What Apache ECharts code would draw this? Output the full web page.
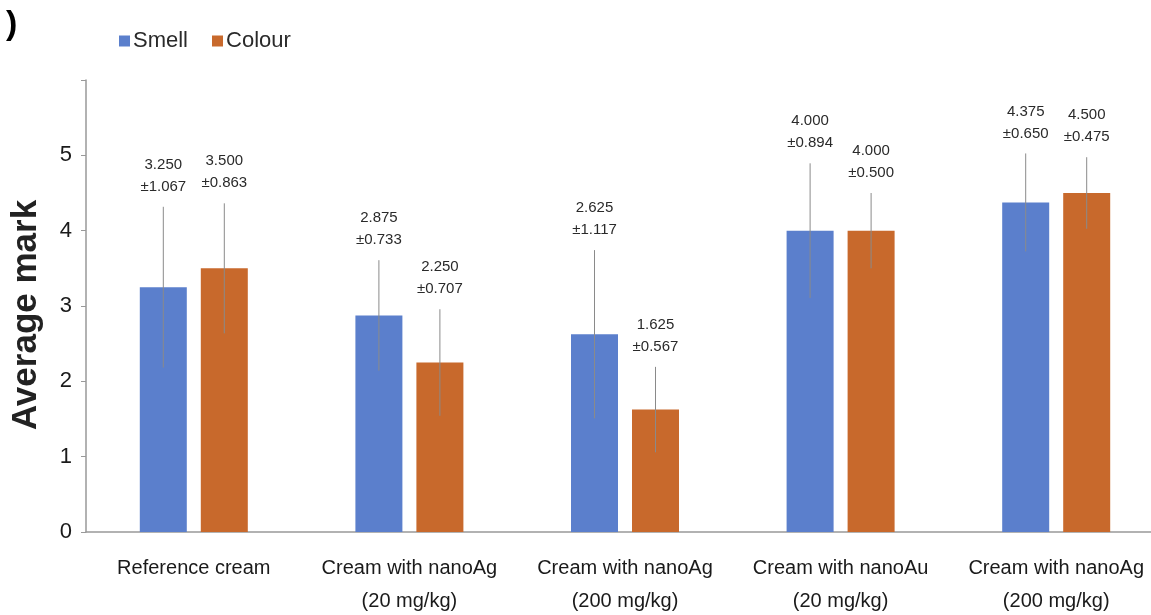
<!DOCTYPE html>
<html>
<head>
<meta charset="utf-8">
<script src="https://cdn.jsdelivr.net/npm/echarts@6/dist/echarts.min.js"></script>
<style>
  html, body { margin: 0; padding: 0; background: #fff; }
  #chart { width: 1151px; height: 615px; }
</style>
</head>
<body>
<div id="chart"></div>
<script>
var categories = ['Reference cream', 'Cream with nanoAg\n(20 mg/kg)', 'Cream with nanoAg\n(200 mg/kg)', 'Cream with nanoAu\n(20 mg/kg)', 'Cream with nanoAg\n(200 mg/kg)'];
var smell = [3.250, 2.875, 2.625, 4.000, 4.375];
var smellSd = [1.067, 0.733, 1.117, 0.894, 0.650];
var colour = [3.500, 2.250, 1.625, 4.000, 4.500];
var colourSd = [0.863, 0.707, 0.567, 0.500, 0.475];
var yTicks = [0, 1, 2, 3, 4, 5];

var FONT = '"Liberation Sans Narrow", "Arial Narrow", "Liberation Sans", Arial, sans-serif';
var BAR_W = 47;
var GAP = 14;

var chart = echarts.init(document.getElementById('chart'));

// error bar + two-line label, drawn over each bar
function errSeries(name, means, sds, side) {
  var data = means.map(function (m, i) { return [i, m, sds[i]]; });
  return {
    name: name + ' err',
    type: 'custom',
    z: 5,
    silent: true,
    data: data,
    renderItem: function (params, api) {
      var i = api.value(0), m = api.value(1), sd = api.value(2);
      var off = side * (BAR_W + GAP) / 2;
      var hi = api.coord([i, m + sd]);
      var lo = api.coord([i, m - sd]);
      var x = hi[0] + off;
      return {
        type: 'group',
        children: [
          { type: 'line', shape: { x1: x, y1: hi[1], x2: x, y2: lo[1] },
            style: { stroke: '#8a8a8a', lineWidth: 1 } },
          { type: 'text', x: x, y: hi[1] - 9,
            style: { text: m.toFixed(3) + '\n±' + sd.toFixed(3), textAlign: 'center', textVerticalAlign: 'bottom',
              fill: '#2a2a2a', font: '15px ' + FONT, lineHeight: 22 } }
        ]
      };
    }
  };
}

var option = {
  animation: false,
  backgroundColor: '#fff',
  grid: { left: 86, right: -13, top: 80, bottom: 83, outerBoundsMode: 'none' },
  legend: {
    data: ['Smell', 'Colour'],
    left: 114, top: 25,
    itemWidth: 11, itemHeight: 11, itemGap: 24,
    icon: 'rect',
    textStyle: { fontFamily: FONT, fontSize: 22, color: '#2a2a2a', padding: [0, 0, 0, -2] }
  },
  xAxis: {
    type: 'category',
    data: categories,
    axisLine: { lineStyle: { color: '#999', width: 1.5 } },
    axisTick: { show: false },
    axisLabel: { fontFamily: FONT, fontSize: 20, color: '#1a1a1a', lineHeight: 33, margin: 20, interval: 0 }
  },
  yAxis: {
    type: 'value',
    min: 0, max: 6, interval: 1,
    name: 'Average mark',
    nameLocation: 'middle',
    nameGap: 42,
    nameTextStyle: { fontFamily: '"Liberation Sans", Arial, sans-serif', fontSize: 35, fontWeight: 'bold',
      color: '#222', padding: [0, 18, 0, 0] },
    axisLine: { show: true, lineStyle: { color: '#999', width: 1.5 } },
    axisTick: { show: true, length: 5, lineStyle: { color: '#999' } },
    splitLine: { show: false },
    axisLabel: {
      fontFamily: FONT, fontSize: 22, color: '#1a1a1a', margin: 14,
      formatter: function (v) { return yTicks.indexOf(v) >= 0 ? String(v) : ''; }
    }
  },
  series: [
    { name: 'Smell', type: 'bar', data: smell, barWidth: BAR_W, barGap: (GAP / BAR_W * 100) + '%',
      itemStyle: { color: '#5b7fcc' } },
    { name: 'Colour', type: 'bar', data: colour, barWidth: BAR_W,
      itemStyle: { color: '#c8692c' } },
    errSeries('Smell', smell, smellSd, -1),
    errSeries('Colour', colour, colourSd, 1)
  ],
  graphic: [
    { type: 'text', left: 6, top: 8,
      style: { text: ')', font: 'bold 34px "Liberation Sans", Arial, sans-serif', fill: '#000' } }
  ]
};

chart.setOption(option);
</script>
</body>
</html>
